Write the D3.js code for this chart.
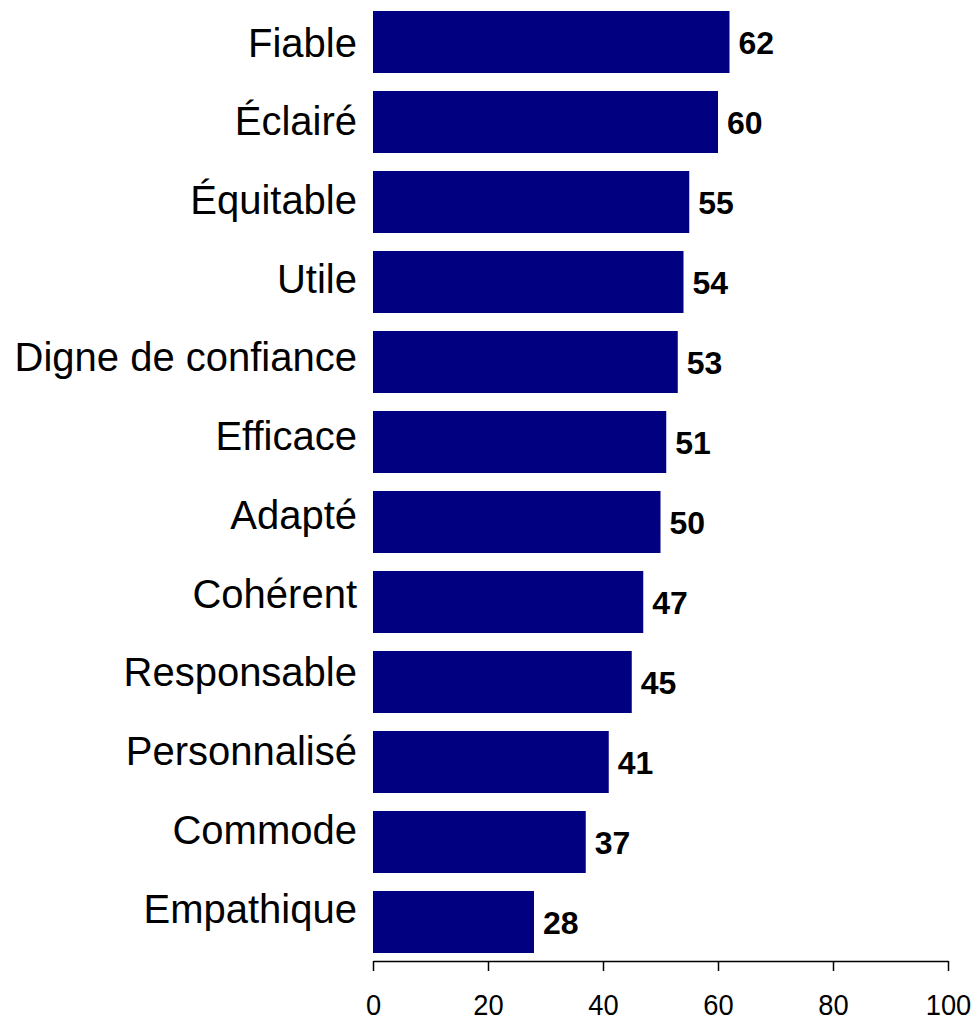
<!DOCTYPE html>
<html>
<head>
<meta charset="utf-8">
<script src="https://cdn.jsdelivr.net/npm/d3@7"></script>
<style>
  html, body { margin: 0; padding: 0; background: #ffffff; }
  svg { display: block; }
</style>
</head>
<body>
<svg id="chart" width="977" height="1021"></svg>
<script>
// Attributes, from top to bottom, with their scores
const categories = ["Fiable", "Éclairé", "Équitable", "Utile", "Digne de confiance", "Efficace",
  "Adapté", "Cohérent", "Responsable", "Personnalisé", "Commode", "Empathique"];
const values = [62, 60, 55, 54, 53, 51, 50, 47, 45, 41, 37, 28];
const tickValues = [0, 20, 40, 60, 80, 100];

const svg = d3.select("#chart");
const font = "'Liberation Sans', Arial, sans-serif";

const x = d3.scaleLinear().domain([0, 100]).range([373, 948]);
const y = d3.scaleBand()
  .domain(categories)
  .range([2, 962])
  .paddingInner(0.225)
  .paddingOuter(0.1125);
// Category labels sit on their own, slightly tighter, vertical grid (baselines)
const yLabel = d3.scalePoint()
  .domain(categories)
  .range([56.5, 922.5]);

const rows = categories.map((c, i) => ({ c, v: values[i] }));

// Bars
svg.append("g").selectAll("rect")
  .data(rows)
  .join("rect")
  .attr("x", x(0))
  .attr("y", d => y(d.c))
  .attr("width", d => x(d.v) - x(0))
  .attr("height", y.bandwidth())
  .attr("fill", "#000080");

// Category labels
svg.append("g").selectAll("text")
  .data(rows)
  .join("text")
  .attr("x", x(0) - 16)
  .attr("y", d => yLabel(d.c))
  .attr("text-anchor", "end")
  .attr("font-family", font)
  .attr("font-size", 40)
  .attr("fill", "#000")
  .text(d => d.c);

// Value labels
svg.append("g").selectAll("text")
  .data(rows)
  .join("text")
  .attr("x", d => x(d.v) + 9)
  .attr("y", d => y(d.c) + y.bandwidth() / 2 + 12)
  .attr("font-family", font)
  .attr("font-size", 32)
  .attr("font-weight", "bold")
  .attr("fill", "#000")
  .text(d => d.v);

// Bottom axis
const axis = svg.append("g")
  .attr("transform", "translate(0,961)")
  .call(d3.axisBottom(x).tickValues(tickValues).tickSize(10).tickSizeOuter(0).tickPadding(23));
axis.select(".domain").attr("stroke", "#000").attr("stroke-width", 1.5);
axis.selectAll(".tick line").attr("stroke", "#000").attr("stroke-width", 1.5);
axis.selectAll(".tick text")
  .attr("font-family", font)
  .attr("font-size", 29)
  .attr("fill", "#000")
  .each(function () {
    const w = this.getComputedTextLength();
    d3.select(this).attr("textLength", w * 0.94).attr("lengthAdjust", "spacingAndGlyphs");
  });
</script>
</body>
</html>
